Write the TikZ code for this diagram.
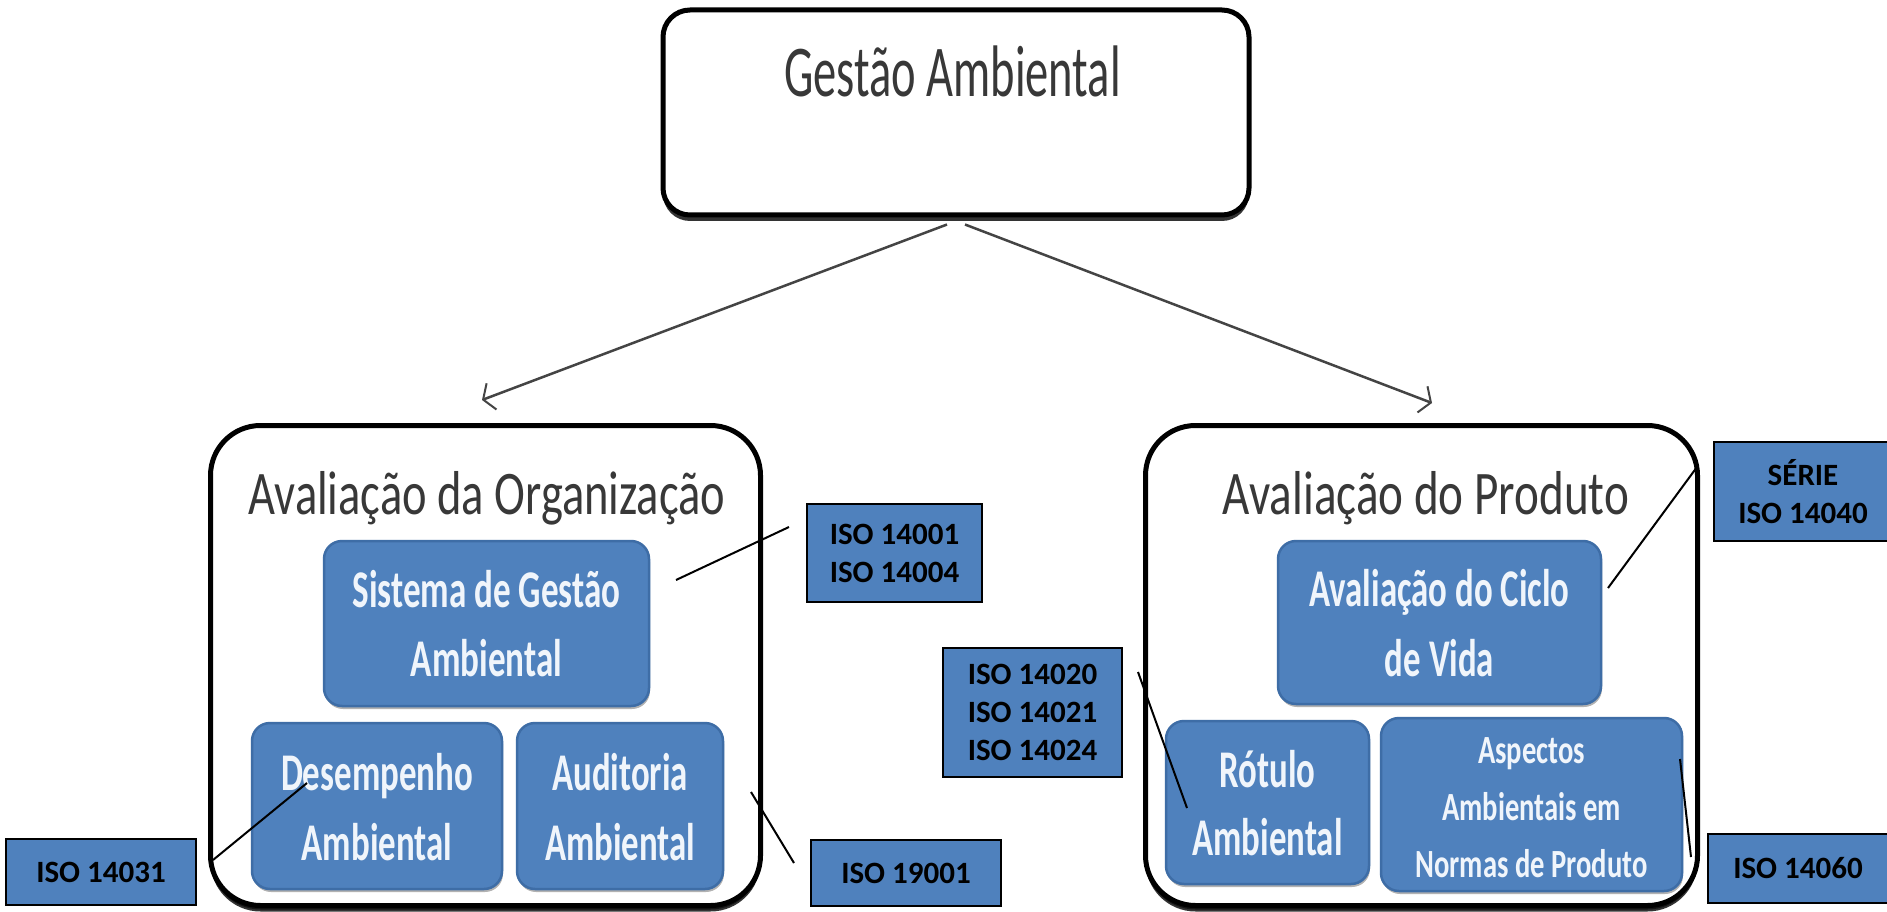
\documentclass[tikz,border=0pt]{standalone}
\usepackage{fontspec}
\setmainfont{Carlito}
\usepackage{graphicx}
\usetikzlibrary{arrows.meta,shadows}

\definecolor{boxblue}{HTML}{4F81BD}
\definecolor{boxedge}{HTML}{3E6DA6}
\definecolor{boxtext}{HTML}{F0F5FB}
\definecolor{titlegray}{HTML}{383838}
\definecolor{arrowgray}{HTML}{444444}

% condensed multi-line text in a blue box: target width, size, line skip, lines
\newcommand\boxText[4]{\raisebox{-5pt}[\height][\depth]{\resizebox{#1}{\height}{%
  \fontsize{#2}{#3}\selectfont\bfseries\begin{tabular}{@{}c@{}}#4\end{tabular}}}}
% condensed single line: xscale, size, text
\newcommand\lineText[3]{\scalebox{#1}[1]{\fontsize{#2}{#2}\selectfont #3}}

\begin{document}
\begin{tikzpicture}[x=1pt,y=-1pt,
  panel/.style={rectangle, draw=black, line width=5pt, fill=white, inner sep=0pt,
    drop shadow={shadow xshift=0pt, shadow yshift=-6pt, fill=black, opacity=0.8}},
  bluebox/.style={rectangle, rounded corners=18pt, fill=boxblue, draw=boxedge,
    line width=2.5pt, text=boxtext, inner sep=0pt,
    drop shadow={shadow xshift=1pt, shadow yshift=-3pt, fill=black, opacity=0.3}},
  isobox/.style={rectangle, fill=boxblue, draw=black, line width=2.5pt, inner sep=0pt,
    align=center, font=\fontsize{31}{38}\selectfont\bfseries},
  title/.style={anchor=base, inner sep=0pt, text=titlegray},
  flow/.style={draw=arrowgray, line width=2.5pt, -{Straight Barb[length=9pt,width=28pt,line width=2pt]}},
  tag/.style={draw=black, line width=2pt}]

\useasboundingbox (0,0) rectangle (1887,912);
\fill[white] (0,0) rectangle (1887,912);

% top box
\node[panel, rounded corners=27pt, minimum width=586pt, minimum height=205pt] (gestao) at (956,112.5) {};
\node[title] (gestaoT) at (952.5,97) {\lineText{0.637}{73}{Gestão Ambiental}};

% the two containers
\node[panel, rounded corners=50pt, minimum width=550pt, minimum height=480pt,
  drop shadow={shadow xshift=0pt, shadow yshift=-4pt, fill=black, opacity=0.6}] (org) at (485.5,665.5) {};
\node[panel, rounded corners=50pt, minimum width=552pt, minimum height=480pt,
  drop shadow={shadow xshift=0pt, shadow yshift=-4pt, fill=black, opacity=0.6}] (prod) at (1421.5,665.5) {};
\node[title] (orgT) at (487,514) {\lineText{0.75}{62}{Avaliação da Organização}};
\node[title] (prodT) at (1426,514) {\lineText{0.76}{62}{Avaliação do Produto}};

% arrows
\draw[flow] ([xshift=-9pt,yshift=-7pt]gestao.south) -- ([xshift=-3.5pt,yshift=23pt]org.north);
\draw[flow] ([xshift=9pt,yshift=-7pt]gestao.south) -- ([xshift=10.5pt,yshift=20pt]prod.north);

% blue boxes, organisation side
\node[bluebox, minimum width=325pt, minimum height=165pt] (sga) at (486.5,623.5)
  {\boxText{268pt}{53}{69}{Sistema de Gestão\\Ambiental}};
\node[bluebox, minimum width=250pt, minimum height=166pt] (des) at (377,806)
  {\boxText{192pt}{53}{70}{Desempenho\\Ambiental}};
\node[bluebox, minimum width=206pt, minimum height=166pt] (aud) at (620,806)
  {\boxText{150pt}{53}{70}{Auditoria\\Ambiental}};

% blue boxes, product side
\node[bluebox, minimum width=323pt, minimum height=163pt] (acv) at (1439.5,622.5)
  {\boxText{260pt}{53}{70}{Avaliação do Ciclo\\de Vida}};
\node[bluebox, minimum width=203pt, minimum height=163pt] (rot) at (1267.5,802.5)
  {\boxText{150pt}{53}{68}{Rótulo\\Ambiental}};
\node[bluebox, minimum width=301pt, minimum height=173pt] (asp) at (1531.5,804.5)
  {\boxText{232pt}{40}{57}{Aspectos\\Ambientais em\\Normas de Produto}};

% standard labels
\node[isobox, minimum width=175pt, minimum height=98pt] (iso1) at (894.5,553) {ISO 14001\\ISO 14004};
\node[isobox, minimum width=179pt, minimum height=129pt] (iso2) at (1032.5,712.5) {ISO 14020\\ISO 14021\\ISO 14024};
\node[isobox, minimum width=190pt, minimum height=66pt] (iso3) at (906,873) {ISO 19001};
\node[isobox, minimum width=190pt, minimum height=66pt] (iso4) at (101,872) {ISO 14031};
\node[isobox, minimum width=178pt, minimum height=99pt] (iso5) at (1803,491.5) {SÉRIE\\ISO 14040};
\node[isobox, minimum width=180pt, minimum height=69pt] (iso6) at (1798,868.5) {ISO 14060};

% pointer lines
\coordinate (p1a) at (789,527);  \coordinate (p1b) at (676,580);
\coordinate (p2a) at (751,792);  \coordinate (p2b) at (794,863);
\coordinate (p3a) at (213,860);  \coordinate (p3b) at (307,783);
\coordinate (p4a) at (1138,672); \coordinate (p4b) at (1187,808);
\coordinate (p5a) at (1697,467); \coordinate (p5b) at (1608,588);
\coordinate (p6a) at (1680,759); \coordinate (p6b) at (1691,857);
\draw[tag] (p1a) -- (p1b);
\draw[tag] (p2a) -- (p2b);
\draw[tag] (p3a) -- (p3b);
\draw[tag] (p4a) -- (p4b);
\draw[tag] (p5a) -- (p5b);
\draw[tag] (p6a) -- (p6b);
\end{tikzpicture}
\end{document}
